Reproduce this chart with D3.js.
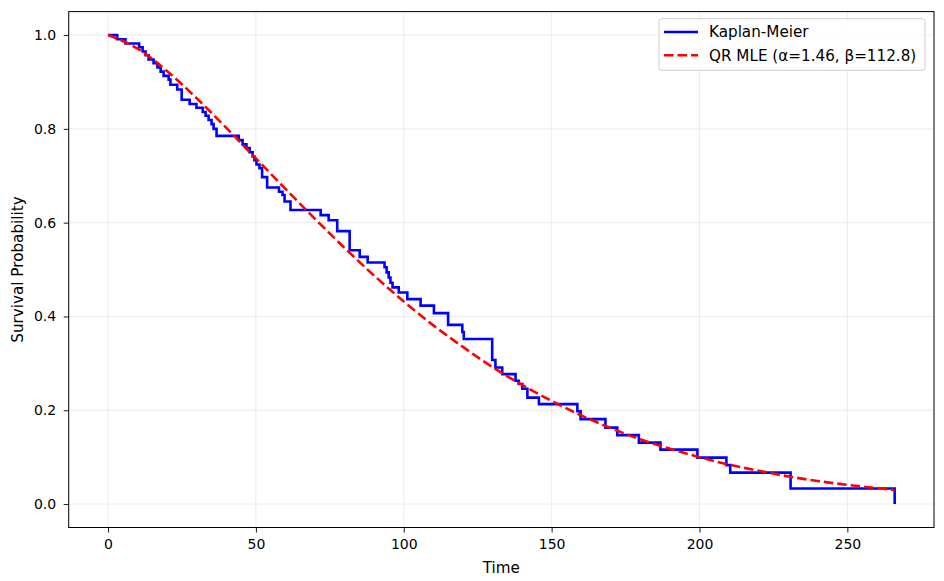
<!DOCTYPE html>
<html>
<head>
<meta charset="utf-8">
<script src="https://cdn.jsdelivr.net/npm/d3@7"></script>
<style>
  body { margin: 0; background: #fff; }
  svg { font-family: "DejaVu Sans", sans-serif; }
</style>
</head>
<body>
<div id="chart"></div>
<script>
// Kaplan-Meier steps: survival drops to kmSurv[i] at kmTime[i]
const kmTime = [0, 3.1, 5.9, 10.5, 11.7, 12.7, 13.7, 15.4, 16.7, 17.8, 18.8, 20.5, 21.1, 23.4, 24.9,
  27.6, 29.9, 32.0, 33.0, 34.0, 35.0, 35.7, 36.7, 44.2, 45.5, 46.8, 47.9, 48.9, 49.5, 50.2, 51.2,
  52.1, 53.8, 57.8, 59.0, 59.7, 61.7, 71.9, 74.6, 77.5, 81.7, 85.1, 87.8, 93.5, 94.2, 94.9, 95.5,
  96.2, 98.3, 101.2, 105.7, 110.2, 115.0, 119.8, 120.3, 129.9, 131.0, 133.3, 137.8, 138.9, 140.1,
  141.8, 145.7, 158.7, 159.8, 168.2, 172.2, 179.5, 186.8, 199.3, 209.1, 210.4, 230.8, 266.0];
const kmSurv = [1.0, 0.991, 0.982, 0.974, 0.965, 0.957, 0.948, 0.940, 0.931, 0.922, 0.913, 0.905, 0.894, 0.884, 0.862,
  0.853, 0.845, 0.836, 0.828, 0.819, 0.810, 0.800, 0.785, 0.776, 0.767, 0.759, 0.750, 0.741, 0.733, 0.724, 0.716,
  0.697, 0.675, 0.666, 0.659, 0.645, 0.627, 0.616, 0.605, 0.582, 0.541, 0.527, 0.515, 0.505, 0.494, 0.483, 0.472,
  0.462, 0.451, 0.437, 0.423, 0.407, 0.382, 0.367, 0.352, 0.307, 0.291, 0.277, 0.263, 0.256, 0.246,
  0.227, 0.213, 0.198, 0.181, 0.163, 0.147, 0.131, 0.116, 0.099, 0.083, 0.067, 0.033, 0.0];

// fitted curve
const fitTime = [0, 10, 20, 30, 40, 50, 60, 70, 80, 90, 100, 110, 120, 130, 140, 150, 160, 170, 180,
  190, 200, 210, 220, 230, 240, 250, 260, 266];
const fitSurv = [1.0, 0.971, 0.923, 0.865, 0.802, 0.737, 0.672, 0.608, 0.546, 0.487, 0.432, 0.381, 0.335,
  0.292, 0.254, 0.220, 0.189, 0.162, 0.138, 0.118, 0.100, 0.084, 0.071, 0.059, 0.049, 0.041, 0.034, 0.030];

const xTicks = [0, 50, 100, 150, 200, 250];
const yTicks = [0.0, 0.2, 0.4, 0.6, 0.8, 1.0];
const legendLabels = ['Kaplan-Meier', 'QR MLE (α=1.46, β=112.8)'];

const W = 944, H = 581;
const margin = { top: 11.6, right: 10, bottom: 53.5, left: 68.7 };
const width = W - margin.left - margin.right;
const height = H - margin.top - margin.bottom;

const svg = d3.select('#chart').append('svg')
    .attr('width', W)
    .attr('height', H);

const g = svg.append('g')
    .attr('transform', `translate(${margin.left},${margin.top})`);

const x = d3.scaleLinear().domain([-13.3, 279.3]).range([0, width]);
const y = d3.scaleLinear().domain([-0.05, 1.05]).range([height, 0]);

// grid
g.append('g').selectAll('line').data(xTicks).enter().append('line')
    .attr('x1', d => x(d)).attr('x2', d => x(d))
    .attr('y1', 0).attr('y2', height)
    .attr('stroke', '#b0b0b0').attr('stroke-opacity', 0.3).attr('stroke-width', 0.8);
g.append('g').selectAll('line').data(yTicks).enter().append('line')
    .attr('x1', 0).attr('x2', width)
    .attr('y1', d => y(d)).attr('y2', d => y(d))
    .attr('stroke', '#b0b0b0').attr('stroke-opacity', 0.3).attr('stroke-width', 0.8);

// axes
const xAxis = g.append('g')
    .attr('transform', `translate(0,${height})`)
    .call(d3.axisBottom(x).tickValues(xTicks).tickSize(5).tickPadding(6.5).tickFormat(d3.format('d')));
const yAxis = g.append('g')
    .call(d3.axisLeft(y).tickValues(yTicks).tickSize(5).tickPadding(7.5).tickFormat(d3.format('.1f')));
[xAxis, yAxis].forEach(a => {
    a.select('.domain').remove();
    a.selectAll('text').style('font-size', '14px').attr('fill', '#000')
        .style('font-family', '"DejaVu Sans", sans-serif');
    a.selectAll('line').attr('stroke', '#000').attr('stroke-width', 0.9);
});

g.append('rect')
    .attr('width', width).attr('height', height)
    .attr('fill', 'none').attr('stroke', '#000').attr('stroke-width', 1);

// axis labels
g.append('text')
    .attr('x', width / 2).attr('y', height + 45.2)
    .attr('text-anchor', 'middle').style('font-size', '15.2px')
    .text('Time');
g.append('text')
    .attr('transform', 'rotate(-90)')
    .attr('x', -height / 2).attr('y', -46)
    .attr('text-anchor', 'middle').style('font-size', '15.2px')
    .text('Survival Probability');

// Kaplan-Meier step line
const kmData = kmTime.map((t, i) => ({ t, s: kmSurv[i] }));
g.append('path')
    .datum(kmData)
    .attr('fill', 'none')
    .attr('stroke', '#0000ff')
    .attr('stroke-width', 2.6)
    .attr('d', d3.line().x(d => x(d.t)).y(d => y(d.s)).curve(d3.curveStepAfter));

// fitted curve
const fitData = fitTime.map((t, i) => ({ t, s: fitSurv[i] }));
g.append('path')
    .datum(fitData)
    .attr('fill', 'none')
    .attr('stroke', '#ff0000')
    .attr('stroke-width', 2.6)
    .attr('stroke-dasharray', '9.5,4')
    .attr('d', d3.line().x(d => x(d.t)).y(d => y(d.s)).curve(d3.curveMonotoneX));

// legend
const leg = svg.append('g').attr('transform', 'translate(659,18.7)');
leg.append('rect')
    .attr('width', 266).attr('height', 51.6).attr('rx', 3)
    .attr('fill', '#fff').attr('fill-opacity', 0.8)
    .attr('stroke', '#cccccc').attr('stroke-width', 1);
const legStyles = [{ c: '#0000ff', dash: null }, { c: '#ff0000', dash: '9.5,4' }];
legendLabels.forEach((lab, i) => {
    const yy = 13.3 + i * 23.3;
    leg.append('line')
        .attr('x1', 5).attr('x2', 39).attr('y1', yy).attr('y2', yy)
        .attr('stroke', legStyles[i].c).attr('stroke-width', 2.6)
        .attr('stroke-dasharray', legStyles[i].dash);
    leg.append('text')
        .attr('x', 50).attr('y', yy).attr('dy', '0.35em')
        .style('font-size', '15.2px')
        .text(lab);
});
</script>
</body>
</html>
